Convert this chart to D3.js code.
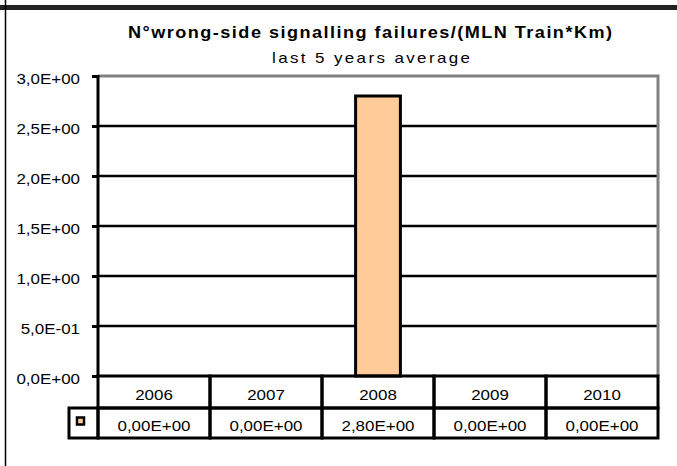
<!DOCTYPE html>
<html>
  <head>
    <meta charset="utf-8">
    <title>Wrong-side signalling failures</title>
    <script src="https://d3js.org/d3.v7.min.js"></script>
    <style>
      body { margin: 0; background: #fff; }
      svg text { font-family: "Liberation Sans", Arial, sans-serif; fill: #000; }
      .tick text, .cell { font-size: 15px; }
      .domain { display: none; }
    </style>
  </head>
  <body>
    <svg id="chart" width="677" height="466"></svg>
    <script>
      // chart data
      var years = ["2006", "2007", "2008", "2009", "2010"];
      var failures = [0, 0, 2.8, 0, 0];
      var yTicks = [0, 0.5, 1, 1.5, 2, 2.5, 3];
      var titleText = "N°wrong-side signalling failures/(MLN Train*Km)";
      var subtitleText = "last 5 years average";

      var chartData = years.map(function(d, i) {
        return { year: d, value: failures[i] };
      });

      // excel-ish scientific format: 2,80E+00
      function fmtE(v, digits) {
        var s = v.toExponential(digits).split("e");
        var exp = +s[1];
        var e = (exp < 0 ? "-" : "+") + (Math.abs(exp) < 10 ? "0" : "") + Math.abs(exp);
        return s[0].replace(".", ",") + "E" + e;
      }

      // the source fonts are a bit wider than Arial
      var sx = 1.13;

      var chart = d3.select("#chart");
      var margin = { top: 76, right: 658, bottom: 376, left: 98 };
      var rowH = 31;

      // page frame
      chart.append("line")
        .attr("x1", 0).attr("x2", 677).attr("y1", 7.5).attr("y2", 7.5)
        .attr("stroke", "#222").attr("stroke-width", 5);
      chart.append("line")
        .attr("x1", 5.5).attr("x2", 5.5).attr("y1", 0).attr("y2", 466)
        .attr("stroke", "#000").attr("stroke-width", 1.5);

      // titles
      chart.append("text")
        .attr("x", 370 / sx).attr("y", 38.5)
        .attr("transform", "scale(" + sx + ",1)")
        .attr("text-anchor", "middle")
        .attr("textLength", 484 / sx)
        .style("font-size", "16px").style("font-weight", "bold")
        .text(titleText);
      chart.append("text")
        .attr("x", 371 / sx).attr("y", 63)
        .attr("transform", "scale(" + sx + ",1)")
        .attr("text-anchor", "middle")
        .attr("textLength", 198 / sx)
        .style("font-size", "15px")
        .text(subtitleText);

      // scales
      var x = d3.scaleBand()
        .domain(years)
        .range([margin.left, margin.right])
        .paddingInner(0.6)
        .paddingOuter(0.3);
      var xCol = d3.scaleBand()
        .domain(years)
        .range([margin.left, margin.right]);
      var y = d3.scaleLinear()
        .domain([0, 3])
        .range([margin.bottom, margin.top]);

      // gridlines
      chart.append("g")
        .selectAll("line")
        .data(yTicks.filter(function(d) { return d > 0 && d < 3; }))
        .enter().append("line")
          .attr("x1", margin.left).attr("x2", margin.right)
          .attr("y1", function(d) { return y(d); })
          .attr("y2", function(d) { return y(d); })
          .attr("stroke", "#000").attr("stroke-width", 2.5);

      // plot border (grey top and right)
      chart.append("path")
        .attr("d", "M" + margin.left + "," + y(3) + "H" + margin.right + "V" + y(0))
        .attr("fill", "none").attr("stroke", "#808080").attr("stroke-width", 3);

      // bars
      chart.append("g")
        .selectAll("rect")
        .data(chartData.filter(function(d) { return d.value > 0; }))
        .enter().append("rect")
          .attr("x", function(d) { return x(d.year); })
          .attr("y", function(d) { return y(d.value); })
          .attr("width", x.bandwidth())
          .attr("height", function(d) { return y(0) - y(d.value); })
          .attr("fill", "#FFCC99")
          .attr("stroke", "#000").attr("stroke-width", 3);

      // y axis
      var yAxis = d3.axisLeft(y)
        .tickValues(yTicks)
        .tickSizeInner(6)
        .tickSizeOuter(0)
        .tickPadding(12)
        .tickFormat(function(d) { return fmtE(d, 1); });
      var yAxisGroup = chart.append("g")
        .attr("transform", "translate(" + margin.left + ",0)")
        .call(yAxis);
      yAxisGroup.selectAll(".tick line").attr("stroke", "#000").attr("stroke-width", 3);
      yAxisGroup.selectAll(".tick text")
        .attr("x", -18 / sx)
        .attr("transform", "scale(" + sx + ",1)")
        .attr("dy", "0.49em");
      chart.append("line")
        .attr("x1", margin.left).attr("x2", margin.left)
        .attr("y1", y(3) - 1).attr("y2", y(0))
        .attr("stroke", "#000").attr("stroke-width", 3);

      // data table
      var t1 = margin.bottom, t2 = t1 + rowH + 1, t3 = t2 + rowH - 1;
      var table = chart.append("g");
      table.append("rect")
        .attr("x", 69).attr("y", t2)
        .attr("width", margin.left - 69).attr("height", t3 - t2)
        .attr("fill", "none").attr("stroke", "#000").attr("stroke-width", 3);
      table.selectAll(".col")
        .data(chartData)
        .enter().append("rect")
          .attr("x", function(d) { return xCol(d.year); })
          .attr("y", t1)
          .attr("width", xCol.bandwidth())
          .attr("height", t2 - t1)
          .attr("fill", "none").attr("stroke", "#000").attr("stroke-width", 3);
      table.selectAll(".col2")
        .data(chartData)
        .enter().append("rect")
          .attr("x", function(d) { return xCol(d.year); })
          .attr("y", t2)
          .attr("width", xCol.bandwidth())
          .attr("height", t3 - t2)
          .attr("fill", "none").attr("stroke", "#000").attr("stroke-width", 3);
      table.selectAll(".yr")
        .data(chartData)
        .enter().append("text")
          .attr("class", "cell")
          .attr("x", function(d) { return (xCol(d.year) + xCol.bandwidth() / 2) / sx; })
          .attr("y", t1 + 24)
          .attr("transform", "scale(" + sx + ",1)")
          .attr("text-anchor", "middle")
          .text(function(d) { return d.year; });
      table.selectAll(".val")
        .data(chartData)
        .enter().append("text")
          .attr("class", "cell")
          .attr("x", function(d) { return (xCol(d.year) + xCol.bandwidth() / 2) / sx; })
          .attr("y", t2 + 23)
          .attr("transform", "scale(" + sx + ",1)")
          .attr("text-anchor", "middle")
          .text(function(d) { return fmtE(d.value, 2); });
      // legend key
      table.append("rect")
        .attr("x", 77).attr("y", 417.5)
        .attr("width", 7).attr("height", 7)
        .attr("fill", "#FFCC99")
        .attr("stroke", "#000").attr("stroke-width", 2.5);
    </script>
  </body>
</html>
